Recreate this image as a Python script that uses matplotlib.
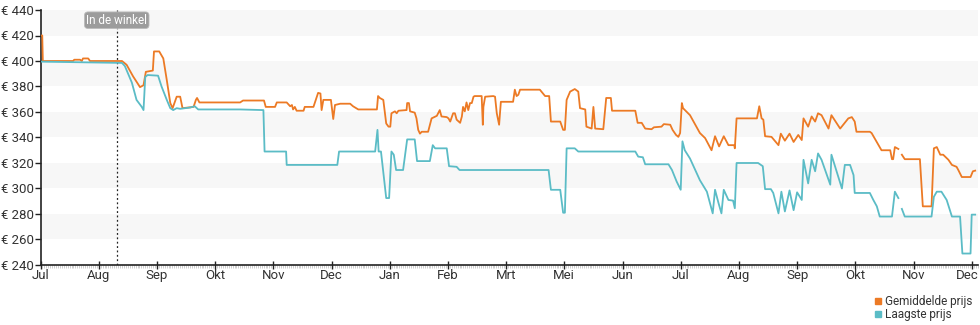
import matplotlib.pyplot as plt
import matplotlib.transforms as mtransforms
import numpy as np
from matplotlib.lines import Line2D

plt.rcParams['font.family'] = ['Roboto', 'DejaVu Sans']

# x = maanden sinds begin juli, nan = gat in de reeks
gem_x = [0.00, 0.03, 0.04, 0.56, 0.58, 0.68, 0.71, 0.73, 0.82, 0.85, 1.40, 1.48, 1.59, 1.71, 1.77,
         1.81, 1.93, 1.95, 2.04, 2.11, 2.17, 2.23, 2.27, 2.34, 2.40, 2.44, 2.63, 2.67, 2.69, 2.73,
         3.43, 3.48, 3.84, 3.87, 4.03, 4.06, 4.23, 4.29, 4.32, 4.34, 4.37, 4.40, 4.52, 4.54, 4.69,
         4.74, 4.77, 4.81, 4.83, 4.86, 4.99, 5.03, 5.06, 5.15, 5.32, 5.37, 5.46, 5.78, 5.80, 5.83,
         5.89, 5.94, 5.98, 6.01, 6.03, 6.09, 6.12, 6.15, 6.29, 6.30, 6.33, 6.35, 6.43, 6.46, 6.49,
         6.52, 6.55, 6.66, 6.72, 6.81, 6.86, 6.89, 6.98, 7.01, 7.04, 7.09, 7.12, 7.15, 7.21, 7.24,
         7.26, 7.29, 7.32, 7.35, 7.38, 7.41, 7.44, 7.46, 7.58, 7.60, 7.61, 7.64, 7.78, 7.81, 7.84,
         7.88, 7.91, 8.12, 8.15, 8.18, 8.21, 8.24, 8.58, 8.67, 8.74, 8.77, 8.93, 8.98, 9.01, 9.04,
         9.10, 9.18, 9.24, 9.27, 9.36, 9.38, 9.47, 9.50, 9.53, 9.67, 9.72, 9.80, 9.82, 10.22, 10.26,
         10.33, 10.39, 10.50, 10.54, 10.67, 10.71, 10.82, 10.86, 10.92, 10.96, 10.99, 11.02, 11.04,
         11.16, 11.33, 11.42, 11.53, 11.59, 11.66, 11.74, 11.82, 11.92, 11.93, 11.96, 12.31, 12.35,
         12.39, 12.42, 12.45, 12.56, 12.68, 12.72, 12.79, 12.87, 12.94, 13.02, 13.08, 13.11, 13.19,
         13.25, 13.31, 13.36, 13.42, 13.54, 13.59, 13.74, 13.88, 13.94, 13.99, 14.02, 14.25, 14.28,
         14.45, 14.60, 14.63, 14.65, 14.68, 14.74, 14.77, 14.80, 14.85, 15.11, 15.16, 15.31, 15.35,
         15.40, 15.46, 15.51, 15.60, 15.66, 15.74, 15.77, 15.83, 15.98, 16.02, 16.06]
gem_prijs = [420, 420, 400, 400, 401, 401, 400, 402, 402, 400, 400, 397, 388, 379.5, 381,
             391.5, 392.5, 407.5, 407.5, 402, 385, 367, 363, 372, 372, 363, 364, 369.5, 371, 367.5,
             367.5, 369, 369, 364, 364, 367.5, 367.5, 364.5, 365.5, 362, 364, 361, 361, 364, 364,
             371, 375, 374.5, 361.5, 369.5, 369.5, 354.5, 365.5, 366.5, 366.5, 364.5, 362, 362, 372.5, 371,
             369.5, 351, 348.5, 348.5, 359, 360.5, 359, 361, 361.5, 367, 367, 360.5, 359.5, 355, 346,
             343, 344.5, 344.5, 355, 357, 361.5, 356.5, 356, 355, 352.5, 359, 359, 354, 351.5, 356.5,
             364, 360.5, 367.5, 361.5, 367, 367, 372, 372.5, 372.5, 350, 364, 372, 372.5, 372, 359,
             350, 368, 368, 377.5, 372.5, 373.5, 377.5, 377.5, 372.5, 372.5, 352.5, 352.5, 346, 346, 369.5,
             376, 378, 376, 363, 362, 348.5, 347, 364, 347, 346.5, 371, 371, 361, 361, 351.5,
             351.5, 347, 346.5, 348, 348.5, 350.5, 350, 346, 342, 340.5, 343.5, 367, 363,
             357.5, 343.5, 339.5, 330, 341, 333, 341, 334, 334, 331.5, 355, 355, 364.5,
             355, 354, 341, 340.5, 334, 343, 337.5, 343, 336.5, 342, 338, 355, 348.5,
             356.5, 352.5, 359, 357.5, 347, 357.5, 347, 355, 356, 352.5, 344.5, 344.5, 343.5,
             330, 330, 323, 323, 332.5, 331, np.nan, 326.5, 323, 323, 286, 286, 331.5,
             332.5, 326.5, 326.5, 322.5, 318.5, 317, 314.5, 309, 309, 313.5, 314]

laag_x = [0.00, 1.40, 1.45, 1.57, 1.65, 1.74, 1.77, 1.80, 1.84, 2.02, 2.08, 2.17, 2.23, 2.28, 2.34,
          2.40, 2.57, 2.65, 2.71, 3.43, 3.83, 3.85, 4.22, 4.23, 5.10, 5.13, 5.75, 5.79, 5.81, 5.85,
          5.94, 5.99, 6.03, 6.07, 6.11, 6.23, 6.30, 6.43, 6.47, 6.69, 6.74, 6.78, 6.98, 7.02, 7.15,
          7.20, 8.73, 8.77, 8.93, 8.98, 9.01, 9.04, 9.18, 9.24, 10.22, 10.27, 10.35, 10.39, 10.79, 10.85,
          10.93, 11.00, 11.03, 11.07, 11.16, 11.25, 11.33, 11.45, 11.55, 11.59, 11.65, 11.70, 11.74, 11.82,
          11.90, 11.93, 11.96, 12.33, 12.41, 12.45, 12.55, 12.59, 12.68, 12.73, 12.79, 12.87, 12.94, 13.00,
          13.08, 13.11, 13.19, 13.25, 13.31, 13.36, 13.42, 13.57, 13.59, 13.77, 13.82, 13.91, 13.97, 13.99,
          14.25, 14.31, 14.37, 14.42, 14.63, 14.68, 14.74, 14.77, 14.80, 14.85, 15.31, 15.35, 15.40, 15.48,
          15.57, 15.66, 15.80, 15.84, 15.98, 16.00, 16.06]
laag_prijs = [399.5, 398.5, 396, 383, 369.5, 364, 361.5, 387.5, 389, 388.5, 380, 369.5, 363, 361.5, 363,
              362.5, 363.5, 364.5, 362, 362, 361.5, 329, 329, 318.5, 318.5, 329, 329, 346, 329, 329,
              292.5, 292.5, 329, 326.5, 314.5, 314.5, 338.5, 338.5, 321.5, 321.5, 334, 331.5, 331.5, 317.5, 317,
              314.5, 314.5, 299, 299, 281, 281, 331.5, 331.5, 329, 329, 325, 324.5, 319, 319, 314.5,
              305.5, 299, 337, 330, 323.5, 314.5, 306.5, 297.5, 280.5, 299, 288.5, 280.5, 299, 291,
              290.5, 284.5, 320, 320, 317.5, 299.5, 299.5, 296.5, 280.5, 297.5, 282, 298.5, 283, 297,
              291, 322.5, 304, 322.5, 313.5, 327.5, 322.5, 303, 326.5, 300, 318.5, 318.5, 310.5, 296.5,
              296.5, 291, 286, 278, 278, 297.5, 292.5, np.nan, 284, 278, 278, 293.5, 297.5, 297.5,
              291, 278, 278, 249, 249, 279.5, 279.5]

maanden = ['Jul', 'Aug', 'Sep', 'Okt', 'Nov', 'Dec', 'Jan', 'Feb', 'Mrt', 'Mei', 'Jun',
           'Jul', 'Aug', 'Sep', 'Okt', 'Nov', 'Dec']
y_ticks = [240, 260, 280, 300, 320, 340, 360, 380, 400, 420, 440]
winkel_x = 1.31

oranje = '#ec7a25'
blauw = '#5bbcc6'

fig = plt.figure(figsize=(9.8, 3.25), dpi=100)
ax = fig.add_axes([40.5 / 980, 1 - 265 / 325, (978 - 40.5) / 980, 255 / 325])

for lo in [260, 300, 340, 380, 420]:
    ax.axhspan(lo, lo + 20, color='#f7f7f7', lw=0, zorder=0)

ax.plot(gem_x, gem_prijs, color=oranje, lw=1.3, zorder=3)
ax.plot(laag_x, laag_prijs, color=blauw, lw=1.3, zorder=3)

ax.axvline(winkel_x, color='#222222', lw=0.9, ls=(0, (1.5, 2)), zorder=2)
ax.text(winkel_x, 432, 'In de winkel', ha='center', va='center', fontsize=8.5, color='white',
        bbox=dict(boxstyle='round,pad=0.15,rounding_size=0.3', fc='#9c9c9c', ec='#bbbbbb', lw=0.6),
        zorder=5)

ax.set_xlim(0, (978 - 40.5) / 58.2)
ax.set_ylim(240, 440)
ax.set_xticks(range(len(maanden)))
ax.set_xticklabels(maanden)
ax.set_xticks(np.arange(0, 16.1, 1 / 30), minor=True)
ax.set_yticks(y_ticks)
ax.set_yticklabels(['€ %d' % v for v in y_ticks])

for s in ['top', 'right']:
    ax.spines[s].set_visible(False)
for s in ['left', 'bottom']:
    ax.spines[s].set_color('#222222')
    ax.spines[s].set_linewidth(1.2)

ax.tick_params(axis='y', length=4, width=1, color='#222222', labelsize=9.5, labelcolor='#333333', pad=1)
ax.tick_params(axis='x', which='major', direction='inout', length=6, width=1, color='#222222',
               labelsize=9.5, labelcolor='#333333', pad=0)
ax.tick_params(axis='x', which='minor', direction='out', length=2, width=0.5, color='#bbbbbb')

# laatste label een paar pixels naar links zodat het binnen de rand valt
laatste = ax.get_xticklabels()[-1]
laatste.set_transform(laatste.get_transform() +
                      mtransforms.ScaledTranslation(-4 / 100, 0, fig.dpi_scale_trans))

handles = [Line2D([], [], ls='', marker='s', ms=5, color=oranje),
           Line2D([], [], ls='', marker='s', ms=5, color=blauw)]
fig.legend(handles, ['Gemiddelde prijs', 'Laagste prijs'], loc='upper right',
           bbox_to_anchor=(978 / 980, 1 - 289 / 325), frameon=False, fontsize=8.5,
           handlelength=0.5, handletextpad=0.3, labelspacing=0.05, borderpad=0,
           labelcolor='#333333')

fig.savefig('out.png', dpi=100)
